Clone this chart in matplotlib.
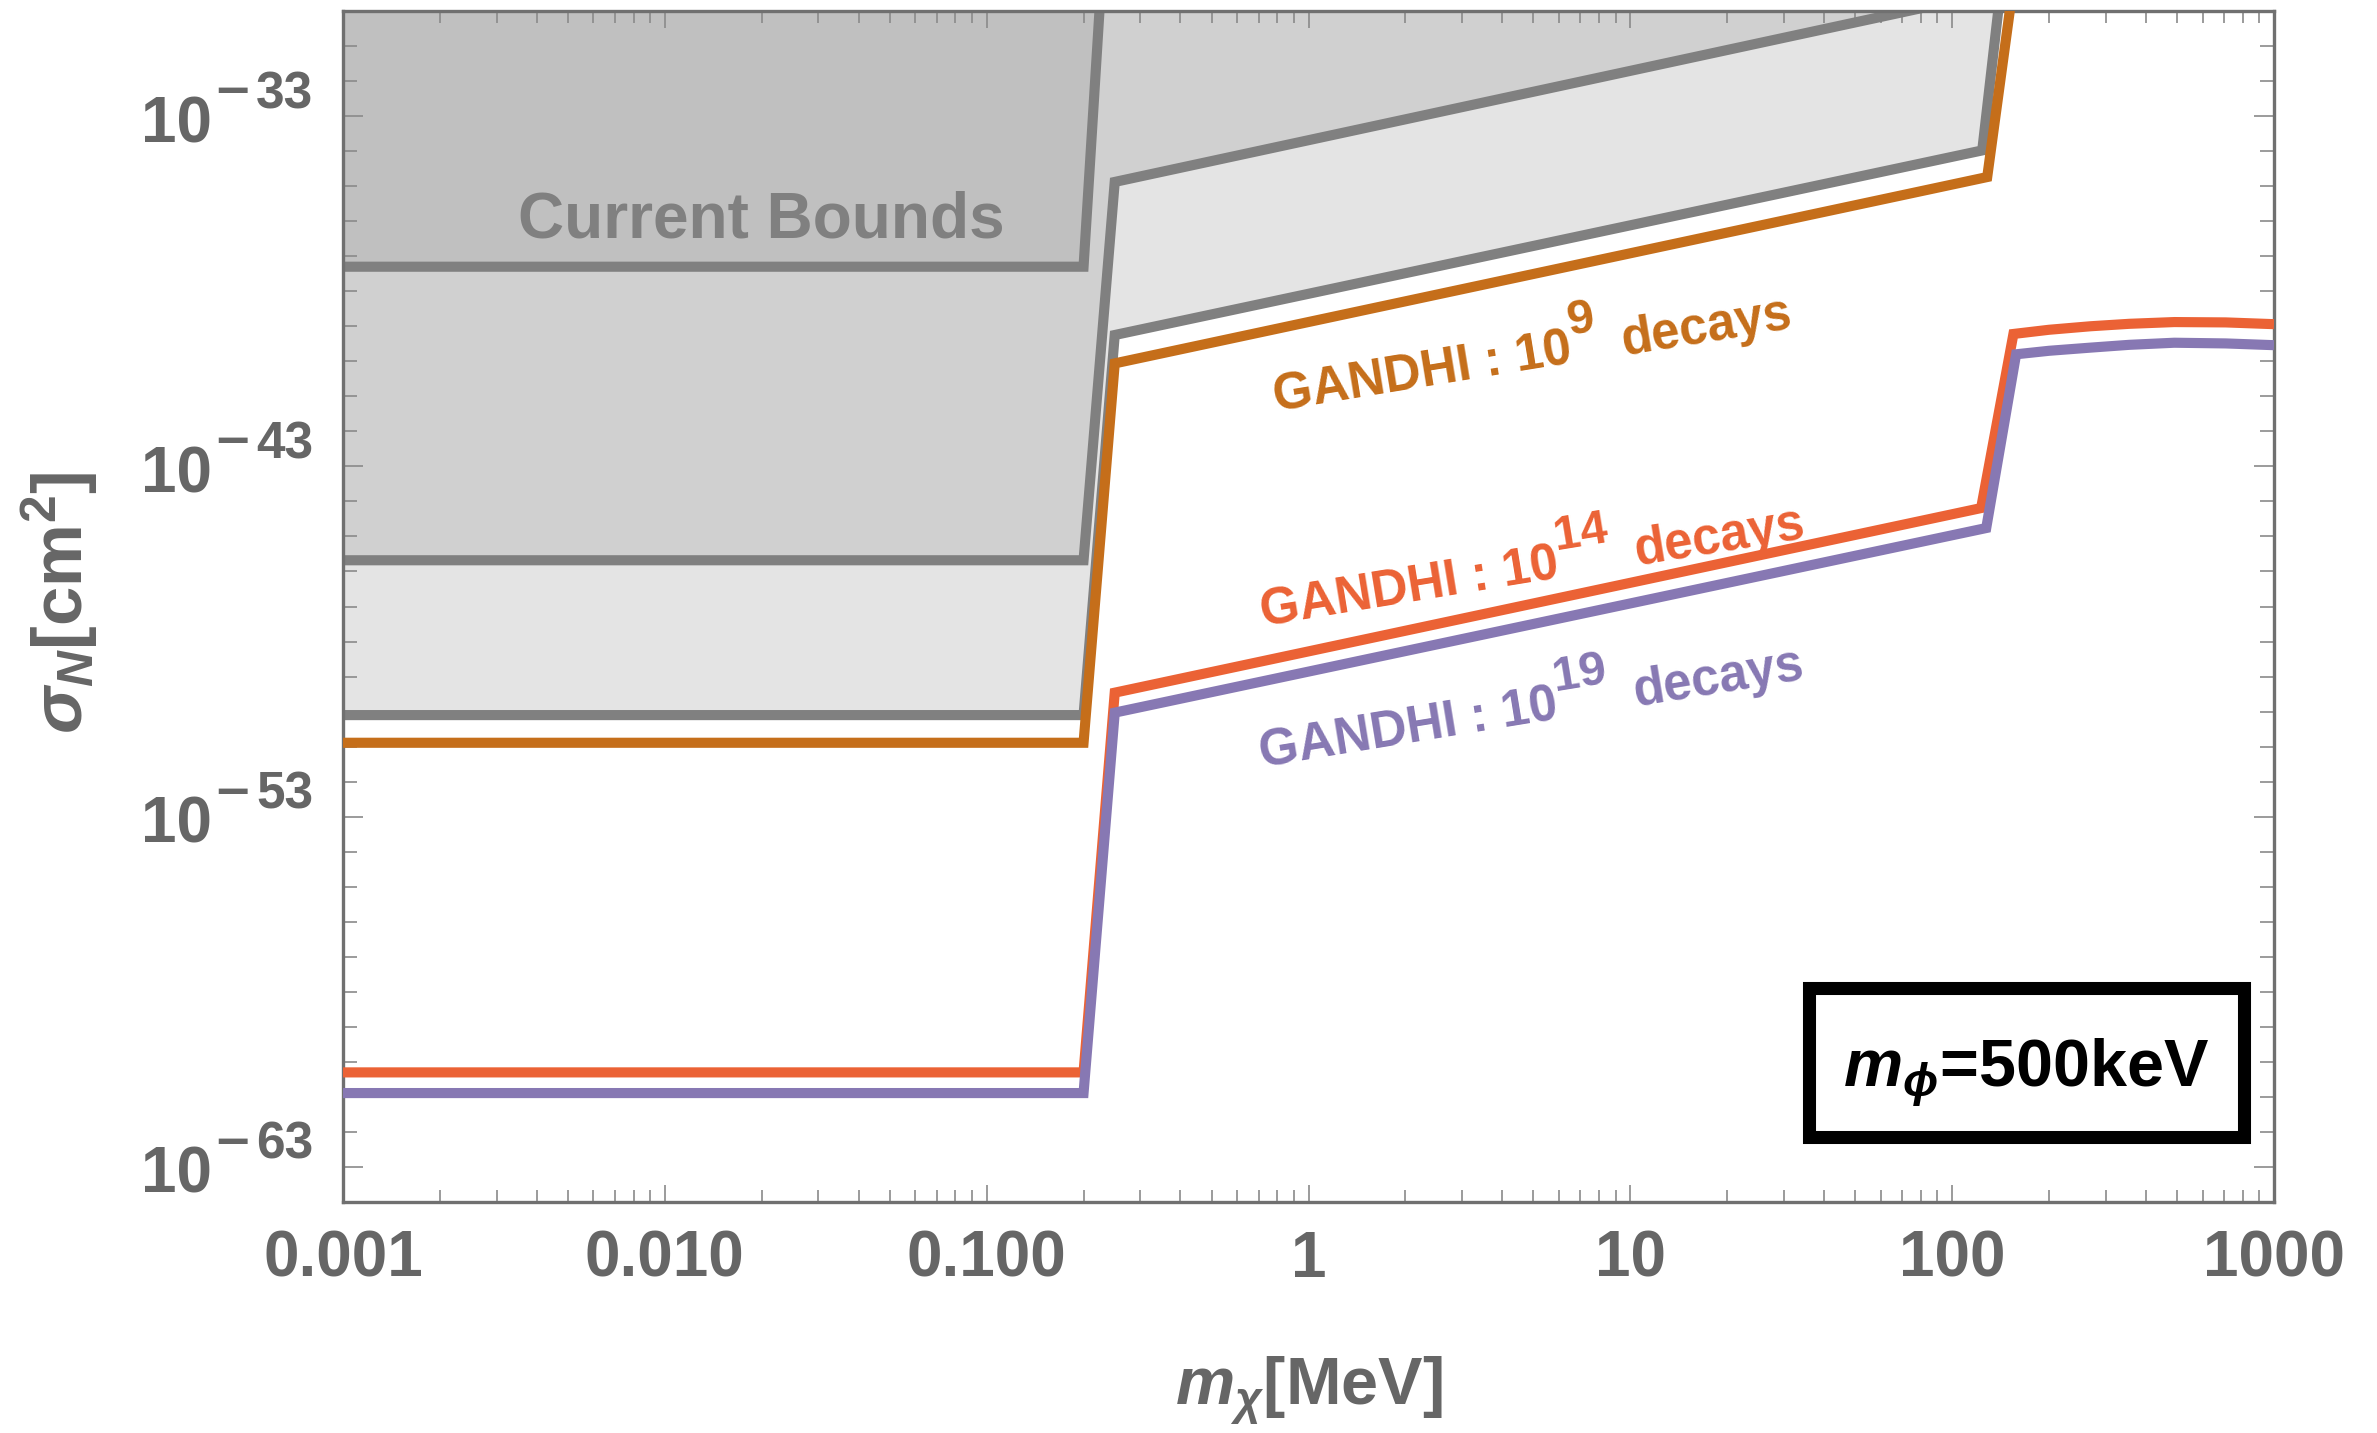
import numpy as np
import matplotlib
matplotlib.use('Agg')
import matplotlib.pyplot as plt
from matplotlib.patches import Rectangle
from matplotlib.ticker import FixedLocator, FixedFormatter, NullFormatter

plt.rcParams['font.family'] = ['Liberation Sans', 'DejaVu Sans']
plt.rcParams['font.weight'] = 'bold'
plt.rcParams['mathtext.fontset'] = 'custom'
plt.rcParams['mathtext.rm'] = 'Liberation Sans:bold'
plt.rcParams['mathtext.it'] = 'Liberation Sans:italic:bold'
plt.rcParams['mathtext.bf'] = 'Liberation Sans:bold'
plt.rcParams['mathtext.default'] = 'it'

# ---------------- data (m in MeV, log10 of sigma in cm^2) ----------------
bound1_m = [1e-3, 0.2, 0.25]
bound1_log = [-37.30, -37.30, -23.0]

bound2_m = [1e-3, 0.2, 0.25, 1000]
bound2_log = [-45.68, -45.68, -34.88, -27.75]

bound3_m = [1e-3, 0.2, 0.25, 124, 160]
bound3_log = [-50.10, -50.10, -39.25, -33.98, -25.1]

g9_m = [1e-3, 0.2, 0.25, 128.5, 160]
g9_log = [-50.89, -50.89, -40.06, -34.74, -28.3]

g14_m = [1e-3, 0.2, 0.25, 123, 155, 200, 269, 355, 490, 708, 1000]
g14_log = [-60.30, -60.30, -49.46, -44.19, -39.22, -39.10, -39.00, -38.93, -38.88, -38.89, -38.94]

g19_m = [1e-3, 0.2, 0.25, 127.6, 158, 200, 269, 355, 490, 708, 1000]
g19_log = [-60.89, -60.89, -50.03, -44.76, -39.80, -39.70, -39.61, -39.53, -39.47, -39.49, -39.54]

xtick_vals = [1e-3, 1e-2, 1e-1, 1, 10, 100, 1000]
xtick_labels = ['0.001', '0.010', '0.100', '1', '10', '100', '1000']
ytick_exps = [-63, -53, -43, -33]

# ---------------- colours ----------------
C_FILL3 = '#e4e4e4'
C_FILL2 = '#d0d0d0'
C_FILL1 = '#c0c0c0'
C_GRAY = '#808080'
C_ORANGE = '#c56e1a'
C_RED = '#eb6235'
C_PURPLE = '#8778b3'
C_TXT = '#666666'

W, H, DPI = 2377, 1433, 100
fig = plt.figure(figsize=(W / DPI, H / DPI), dpi=DPI)
L, R, T, B = 343, 2274, 11, 1202
ax = fig.add_axes([L / W, 1 - B / H, (R - L) / W, (B - T) / H])

ax.set_xscale('log')
ax.set_yscale('log')
ax.set_xlim(1e-3, 1e3)
ax.set_ylim(1e-64, 1e-30)

TOP = 1e-15
def pw(a):
    return np.power(10.0, np.asarray(a, dtype=float))

ax.fill_between(bound3_m, pw(bound3_log), TOP, color=C_FILL3, lw=0, zorder=1)
ax.fill_between(bound2_m, pw(bound2_log), TOP, color=C_FILL2, lw=0, zorder=1.1)
ax.fill_between(bound1_m, pw(bound1_log), TOP, color=C_FILL1, lw=0, zorder=1.2)

LW = 7.3
kw = dict(lw=LW, solid_joinstyle='miter', solid_capstyle='butt')
ax.plot(bound1_m, pw(bound1_log), color=C_GRAY, zorder=2, **kw)
ax.plot(bound2_m, pw(bound2_log), color=C_GRAY, zorder=2, **kw)
ax.plot(bound3_m, pw(bound3_log), color=C_GRAY, zorder=2, **kw)
ax.plot(g9_m, pw(g9_log), color=C_ORANGE, zorder=3, **kw)
ax.plot(g14_m, pw(g14_log), color=C_RED, zorder=3, **kw)
ax.plot(g19_m, pw(g19_log), color=C_PURPLE, zorder=3.1, **kw)

# ---------------- ticks ----------------
ax.xaxis.set_major_locator(FixedLocator(xtick_vals))
ax.xaxis.set_major_formatter(FixedFormatter(xtick_labels))
xminor = [k * 10.0 ** e for e in range(-3, 3) for k in range(2, 10)]
ax.xaxis.set_minor_locator(FixedLocator(xminor))
ax.xaxis.set_minor_formatter(NullFormatter())

ax.yaxis.set_major_locator(FixedLocator([10.0 ** e for e in ytick_exps]))
ax.yaxis.set_major_formatter(NullFormatter())
ax.yaxis.set_minor_locator(FixedLocator([10.0 ** e for e in range(-64, -29)]))
ax.yaxis.set_minor_formatter(NullFormatter())

ax.tick_params(axis='both', which='both', direction='in', top=True, right=True,
               color='#8a8a8a', width=1.2)
ax.tick_params(axis='x', which='major', length=12.5, labelsize=46, labelcolor=C_TXT, pad=20)
ax.tick_params(axis='x', which='minor', length=8.5)
ax.tick_params(axis='y', which='major', length=14.5)
ax.tick_params(axis='y', which='minor', length=10)
for lab in ax.get_xticklabels():
    lab.set_fontweight('bold')

for s in ax.spines.values():
    s.set_color('#707070')
    s.set_linewidth(2.4)

# y tick labels drawn as 10 + superscript (minus and digits placed separately)
ytr = ax.get_yaxis_transform()
for e in ytick_exps:
    ax.annotate('10', xy=(0, 10.0 ** e), xycoords=ytr, xytext=(-131, -26),
                textcoords='offset pixels', ha='right', va='baseline',
                fontsize=46, color=C_TXT, fontweight='bold', annotation_clip=False)
    ax.annotate('%d' % (-e), xy=(0, 10.0 ** e), xycoords=ytr, xytext=(-30, 8),
                textcoords='offset pixels', ha='right', va='baseline',
                fontsize=37, color=C_TXT, fontweight='bold', annotation_clip=False)
    ax.annotate('\u2013', xy=(0, 10.0 ** e), xycoords=ytr, xytext=(-127, 10),
                textcoords='offset pixels', ha='left', va='baseline',
                fontsize=42, color=C_TXT, fontweight='bold', annotation_clip=False)

# ---------------- axis labels ----------------
ax.set_xlabel(r'$m_{\chi}$[MeV]', fontsize=48, color=C_TXT, fontweight='bold')
ax.xaxis.set_label_coords(0.5, -0.1704)
ax.xaxis.label.set_va('baseline')
ax.set_ylabel(r'$\sigma_{N}$[cm$^{2}$]', fontsize=51, color=C_TXT, fontweight='bold')
ax.yaxis.set_label_coords(-0.147, 0.503)
ax.yaxis.label.set_va('center')

# ---------------- annotations ----------------
ax.text(0.0199, 10 ** -35.98, 'Current Bounds', fontsize=46, color=C_GRAY,
        fontweight='bold', ha='center', va='center', zorder=4)

renderer = fig.canvas.get_renderer()
def measure(s, fs):
    t = fig.text(0, 0, s, fontsize=fs, fontweight='bold')
    w = t.get_window_extent(renderer).width
    t.remove()
    return w

def rot_label(xd, yd, main, sup, tail, color, fs=36.5, sfs=35, angle=9.3,
              raise_px=28, gap_px=24):
    w1 = measure(main, fs)
    ws = measure(sup, sfs)
    w2 = measure(tail, fs)
    total = w1 + ws + gap_px + w2
    th = np.deg2rad(angle)
    ux, uy = np.cos(th), np.sin(th)
    nx, ny = -np.sin(th), np.cos(th)
    s0 = -total / 2
    pieces = [(main, fs, s0, 0), (sup, sfs, s0 + w1, raise_px),
              (tail, fs, s0 + w1 + ws + gap_px, 0)]
    for txt, f, s, r in pieces:
        ax.annotate(txt, xy=(xd, yd), xycoords='data',
                    xytext=(s * ux + r * nx, s * uy + r * ny), textcoords='offset pixels',
                    ha='left', va='baseline', rotation=angle, rotation_mode='anchor',
                    fontsize=f, color=color, fontweight='bold', zorder=4)

rot_label(5.053, 10 ** -40.228, 'GANDHI : 10', '9', 'decays', C_ORANGE)
rot_label(5.053, 10 ** -46.307, 'GANDHI : 10', '14', 'decays', C_RED)
rot_label(5.012, 10 ** -50.325, 'GANDHI : 10', '19', 'decays', C_PURPLE)

# parameter box
ax.add_patch(Rectangle((0.7590, 0.0542), 0.2257, 0.1251, transform=ax.transAxes,
                       facecolor='white', edgecolor='black', lw=9.4, zorder=5,
                       joinstyle='miter'))
ax.text(0.8719, 0.0966, r'$m_{\phi}$=500keV', transform=ax.transAxes, fontsize=48,
        color='black', fontweight='bold', ha='center', va='baseline', zorder=6)

fig.savefig('out.png', dpi=DPI)
